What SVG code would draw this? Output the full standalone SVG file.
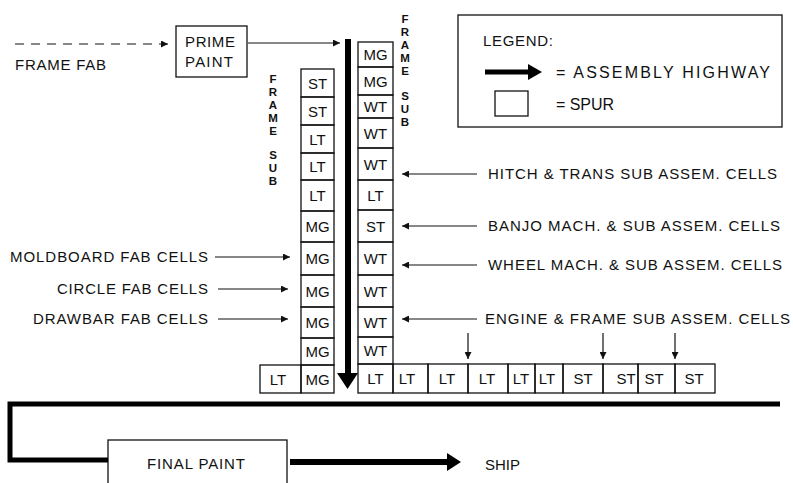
<svg xmlns="http://www.w3.org/2000/svg" width="793" height="483" viewBox="0 0 793 483">
<defs>
<marker id="ah" viewBox="0 0 10 10" refX="10" refY="5" markerWidth="9" markerHeight="7" markerUnits="userSpaceOnUse" orient="auto"><path d="M0,0 L10,5 L0,10 z" fill="#111"/></marker>
</defs>
<style>
text{font-family:"Liberation Sans",Arial,sans-serif;fill:#111;}
.lbl{font-size:15px;}
.big{font-size:16px;}
.cell{font-size:15px;text-anchor:middle;}
.v{font-size:11.5px;font-weight:bold;text-anchor:middle;}
.box{fill:none;stroke:#111;stroke-width:1.3;}
.thin{stroke:#111;stroke-width:1.2;fill:none;marker-end:url(#ah);}
.dash{stroke-dasharray:9 7;}
.thick{stroke:#000;stroke-width:5;fill:none;}
.head{fill:#000;}
</style>
<rect width="793" height="483" fill="#fff"/>

<g id="frame-fab"><text class="lbl" x="15" y="70" textLength="91" lengthAdjust="spacing">FRAME FAB</text></g>

<g id="prime-paint">
<rect class="box" x="176" y="26" width="71" height="51"/>
<text class="lbl" x="185" y="47" textLength="50" lengthAdjust="spacing">PRIME</text>
<text class="lbl" x="185" y="67" textLength="48" lengthAdjust="spacing">PAINT</text>
</g>

<g id="frame-sub-left">
<text class="v" x="273" y="83">F</text><text class="v" x="273" y="96">R</text><text class="v" x="273" y="109">A</text><text class="v" x="273" y="122">M</text><text class="v" x="273" y="135">E</text>
<text class="v" x="273" y="159">S</text><text class="v" x="273" y="172">U</text><text class="v" x="273" y="185">B</text>
</g>
<g id="frame-sub-right">
<text class="v" x="405" y="23">F</text><text class="v" x="405" y="36">R</text><text class="v" x="405" y="49">A</text><text class="v" x="405" y="62">M</text><text class="v" x="405" y="75">E</text>
<text class="v" x="405" y="100">S</text><text class="v" x="405" y="113">U</text><text class="v" x="405" y="126">B</text>
</g>

<g id="left-column">
<g id="l1"><rect class="box" x="301" y="69" width="33" height="28"/><text class="cell" x="317.5" y="88.5">ST</text></g>
<g id="l2"><rect class="box" x="301" y="97" width="33" height="28"/><text class="cell" x="317.5" y="116.5">ST</text></g>
<g id="l3"><rect class="box" x="301" y="125" width="33" height="28"/><text class="cell" x="317.5" y="144.5">LT</text></g>
<g id="l4"><rect class="box" x="301" y="153" width="33" height="27"/><text class="cell" x="317.5" y="172">LT</text></g>
<g id="l5"><rect class="box" x="301" y="180" width="33" height="31"/><text class="cell" x="317.5" y="201">LT</text></g>
<g id="l6"><rect class="box" x="301" y="211" width="33" height="31"/><text class="cell" x="317.5" y="232">MG</text></g>
<g id="l7"><rect class="box" x="301" y="242" width="33" height="33"/><text class="cell" x="317.5" y="264">MG</text></g>
<g id="l8"><rect class="box" x="301" y="275" width="33" height="32"/><text class="cell" x="317.5" y="296.5">MG</text></g>
<g id="l9"><rect class="box" x="301" y="307" width="33" height="31"/><text class="cell" x="317.5" y="328">MG</text></g>
<g id="l10"><rect class="box" x="301" y="338" width="33" height="27"/><text class="cell" x="317.5" y="357">MG</text></g>
<g id="l11"><rect class="box" x="301" y="365" width="33" height="28"/><text class="cell" x="317.5" y="384.5">MG</text></g>
<g id="l12"><rect class="box" x="260" y="365" width="41" height="28"/><text class="cell" x="278" y="384.5">LT</text></g>
</g>

<g id="right-column">
<g id="r1"><rect class="box" x="358" y="42" width="35" height="25"/><text class="cell" x="375.5" y="60">MG</text></g>
<g id="r2"><rect class="box" x="358" y="67" width="35" height="28"/><text class="cell" x="375.5" y="86.5">MG</text></g>
<g id="r3"><rect class="box" x="358" y="95" width="35" height="23"/><text class="cell" x="375.5" y="112">WT</text></g>
<g id="r4"><rect class="box" x="358" y="118" width="35" height="30"/><text class="cell" x="375.5" y="139">WT</text></g>
<g id="r5"><rect class="box" x="358" y="148" width="35" height="32"/><text class="cell" x="375.5" y="169.5">WT</text></g>
<g id="r6"><rect class="box" x="358" y="180" width="35" height="30"/><text class="cell" x="375.5" y="200.5">LT</text></g>
<g id="r7"><rect class="box" x="358" y="210" width="35" height="32"/><text class="cell" x="375.5" y="231.5">ST</text></g>
<g id="r8"><rect class="box" x="358" y="242" width="35" height="33"/><text class="cell" x="375.5" y="264">WT</text></g>
<g id="r9"><rect class="box" x="358" y="275" width="35" height="32"/><text class="cell" x="375.5" y="296.5">WT</text></g>
<g id="r10"><rect class="box" x="358" y="307" width="35" height="30"/><text class="cell" x="375.5" y="327.5">WT</text></g>
<g id="r11"><rect class="box" x="358" y="337" width="35" height="27"/><text class="cell" x="375.5" y="356">WT</text></g>
<g id="r12"><rect class="box" x="358" y="364" width="35" height="29"/><text class="cell" x="375.5" y="384">LT</text></g>
</g>

<g id="bottom-row">
<g id="b1"><rect class="box" x="393" y="364" width="35" height="29"/><text class="cell" x="407" y="384">LT</text></g>
<g id="b2"><rect class="box" x="428" y="364" width="40" height="29"/><text class="cell" x="447" y="384">LT</text></g>
<g id="b3"><rect class="box" x="468" y="364" width="40" height="29"/><text class="cell" x="487" y="384">LT</text></g>
<g id="b4"><rect class="box" x="508" y="364" width="27" height="29"/><text class="cell" x="521" y="384">LT</text></g>
<g id="b5"><rect class="box" x="535" y="364" width="28" height="29"/><text class="cell" x="547" y="384">LT</text></g>
<g id="b6"><rect class="box" x="563" y="364" width="40" height="29"/><text class="cell" x="583" y="384">ST</text></g>
<g id="b7"><rect class="box" x="603" y="364" width="35" height="29"/><text class="cell" x="626" y="384">ST</text></g>
<g id="b8"><rect class="box" x="638" y="364" width="37" height="29"/><text class="cell" x="654" y="384">ST</text></g>
<g id="b9"><rect class="box" x="675" y="364" width="40" height="29"/><text class="cell" x="694" y="384">ST</text></g>
</g>

<g id="labels">
<text class="lbl" x="10" y="262" textLength="198" lengthAdjust="spacing">MOLDBOARD FAB CELLS</text>
<text class="lbl" x="57" y="294" textLength="151" lengthAdjust="spacing">CIRCLE FAB CELLS</text>
<text class="lbl" x="33" y="324" textLength="175" lengthAdjust="spacing">DRAWBAR FAB CELLS</text>
<text class="lbl" x="488" y="179" textLength="289" lengthAdjust="spacing">HITCH &amp; TRANS SUB ASSEM. CELLS</text>
<text class="lbl" x="488" y="231" textLength="292" lengthAdjust="spacing">BANJO MACH. &amp; SUB ASSEM. CELLS</text>
<text class="lbl" x="488" y="270" textLength="294" lengthAdjust="spacing">WHEEL MACH. &amp; SUB ASSEM. CELLS</text>
<text class="lbl" x="485" y="324" textLength="305" lengthAdjust="spacing">ENGINE &amp; FRAME SUB ASSEM. CELLS</text>
</g>

<g id="final-paint">
<rect class="box" x="108" y="440" width="179" height="60"/>
<text class="lbl" x="147" y="469" textLength="98" lengthAdjust="spacing">FINAL PAINT</text>
</g>
<g id="ship"><text class="lbl" x="485" y="470" textLength="35" lengthAdjust="spacing">SHIP</text></g>

<g id="legend">
<rect class="box" x="458" y="15" width="324" height="112"/>
<text class="lbl" x="483" y="46" textLength="70" lengthAdjust="spacing">LEGEND:</text>
<line class="thick" x1="485" y1="72" x2="530" y2="72"/>
<path class="head" d="M528,64 L542,72 L528,80 z"/>
<text class="big" x="556" y="78" textLength="214" lengthAdjust="spacing">= ASSEMBLY HIGHWAY</text>
<rect class="box" x="495" y="91" width="33" height="25"/>
<text class="big" x="556" y="110" textLength="58" lengthAdjust="spacing">= SPUR</text>
</g>

<g id="connectors">
<line class="thin dash" x1="15" y1="44" x2="168" y2="44"/>
<line class="thin" x1="248" y1="43" x2="340" y2="43"/>
<line class="thick" x1="348" y1="39" x2="348" y2="375" style="stroke-width:6"/>
<path class="head" d="M337,373 L358,373 L347.5,389 z"/>
<line class="thin" x1="215" y1="257" x2="290" y2="257"/>
<line class="thin" x1="218" y1="289" x2="288" y2="289"/>
<line class="thin" x1="218" y1="319" x2="288" y2="319"/>
<line class="thin" x1="477" y1="174" x2="402" y2="174"/>
<line class="thin" x1="477" y1="226" x2="402" y2="226"/>
<line class="thin" x1="477" y1="265" x2="402" y2="265"/>
<line class="thin" x1="477" y1="319" x2="402" y2="319"/>
<line class="thin" x1="468" y1="333" x2="468" y2="359"/>
<line class="thin" x1="603" y1="333" x2="603" y2="359"/>
<line class="thin" x1="675" y1="333" x2="675" y2="359"/>
<polyline class="thick" points="780,404 10,404 10,460 108,460"/>
<line class="thick" x1="290" y1="462" x2="449" y2="462" style="stroke-width:6"/>
<path class="head" d="M447,453 L461,462 L447,471 z"/>
</g>
</svg>
